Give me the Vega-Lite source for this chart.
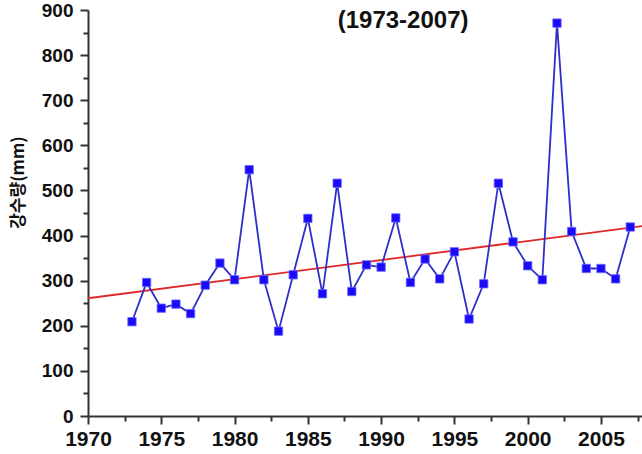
{
  "$schema": "https://vega.github.io/schema/vega-lite/v6.json",
  "width": 554,
  "height": 406,
  "autosize": {"type": "none"},
  "padding": {"left": 88, "top": 10, "right": 0, "bottom": 38},
  "background": "white",
  "config": {
    "view": {"stroke": null},
    "font": "Liberation Sans"
  },
  "datasets": {
    "rain": [
      {"year": 1973, "mm": 209}, {"year": 1974, "mm": 296}, {"year": 1975, "mm": 239},
      {"year": 1976, "mm": 248}, {"year": 1977, "mm": 227}, {"year": 1978, "mm": 290},
      {"year": 1979, "mm": 339}, {"year": 1980, "mm": 302}, {"year": 1981, "mm": 546},
      {"year": 1982, "mm": 302}, {"year": 1983, "mm": 188}, {"year": 1984, "mm": 313},
      {"year": 1985, "mm": 438}, {"year": 1986, "mm": 271}, {"year": 1987, "mm": 516},
      {"year": 1988, "mm": 276}, {"year": 1989, "mm": 335}, {"year": 1990, "mm": 330},
      {"year": 1991, "mm": 439}, {"year": 1992, "mm": 296}, {"year": 1993, "mm": 348},
      {"year": 1994, "mm": 304}, {"year": 1995, "mm": 364}, {"year": 1996, "mm": 215},
      {"year": 1997, "mm": 293}, {"year": 1998, "mm": 516}, {"year": 1999, "mm": 386},
      {"year": 2000, "mm": 333}, {"year": 2001, "mm": 302}, {"year": 2002, "mm": 871},
      {"year": 2003, "mm": 409}, {"year": 2004, "mm": 327}, {"year": 2005, "mm": 327},
      {"year": 2006, "mm": 304}, {"year": 2007, "mm": 419}
    ],
    "trend": [
      {"year": 1970, "mm": 261},
      {"year": 2007.8, "mm": 421}
    ],
    "label": [
      {"year": 1991.5, "mm": 876, "text": "(1973-2007)"}
    ]
  },
  "resolve": {"axis": {"x": "independent", "y": "independent"}},
  "layer": [
    {
      "data": {"name": "trend"},
      "mark": {"type": "rule", "opacity": 0},
      "encoding": {
        "x": {
          "field": "year", "type": "quantitative",
          "scale": {"domain": [1970, 2007.8], "nice": false, "zero": false},
          "axis": {
            "orient": "bottom",
            "values": [1972.5, 1977.5, 1982.5, 1987.5, 1992.5, 1997.5, 2002.5, 2007.5],
            "labels": false, "title": null, "grid": false,
            "domain": false, "tickSize": 5, "tickWidth": 2, "tickColor": "#333333"
          }
        },
        "y": {
          "field": "mm", "type": "quantitative",
          "scale": {"domain": [0, 900], "nice": false},
          "axis": {
            "orient": "left",
            "values": [50, 150, 250, 350, 450, 550, 650, 750, 850],
            "labels": false, "title": null, "grid": false,
            "domain": false, "tickSize": 5, "tickWidth": 2, "tickColor": "#333333"
          }
        }
      }
    },
    {
      "data": {"name": "trend"},
      "mark": {"type": "line", "color": "#e02828", "strokeWidth": 1.8},
      "encoding": {
        "x": {
          "field": "year", "type": "quantitative",
          "scale": {"domain": [1970, 2007.8], "nice": false, "zero": false},
          "axis": {
            "orient": "bottom",
            "values": [1970, 1975, 1980, 1985, 1990, 1995, 2000, 2005],
            "format": "d", "title": null, "grid": false,
            "labelFlush": false, "labelOverlap": false,
            "domainColor": "#333333", "domainWidth": 2,
            "tickColor": "#333333", "tickWidth": 2, "tickSize": 8,
            "labelFontSize": 21, "labelFontWeight": "bold", "labelColor": "#111111",
            "labelPadding": 4, "labelFont": "Liberation Sans"
          }
        },
        "y": {
          "field": "mm", "type": "quantitative",
          "scale": {"domain": [0, 900], "nice": false},
          "axis": {
            "orient": "left",
            "values": [0, 100, 200, 300, 400, 500, 600, 700, 800, 900],
            "title": "강수량(mm)", "grid": false,
            "labelFlush": false, "labelOverlap": false,
            "domainColor": "#333333", "domainWidth": 2,
            "tickColor": "#333333", "tickWidth": 2, "tickSize": 8,
            "labelFontSize": 19, "labelFontWeight": "bold", "labelColor": "#111111",
            "labelPadding": 7, "labelFont": "Liberation Sans",
            "titleFontSize": 17, "titleFontWeight": "bold", "titleColor": "#111111",
            "titleFont": "Noto Sans CJK KR",
            "titleX": -70, "titleY": 172, "titleAngle": -90,
            "titleAlign": "center", "titleBaseline": "middle"
          }
        }
      }
    },
    {
      "data": {"name": "rain"},
      "mark": {"type": "line", "color": "#2f2fc8", "strokeWidth": 1.8},
      "encoding": {
        "x": {"field": "year", "type": "quantitative", "axis": null},
        "y": {"field": "mm", "type": "quantitative", "axis": null}
      }
    },
    {
      "data": {"name": "rain"},
      "mark": {"type": "point", "shape": "square", "filled": true, "size": 70, "color": "#1a0af5", "stroke": "#6a6aff", "strokeWidth": 0.8, "opacity": 1},
      "encoding": {
        "x": {"field": "year", "type": "quantitative", "axis": null},
        "y": {"field": "mm", "type": "quantitative", "axis": null}
      }
    },
    {
      "data": {"name": "label"},
      "mark": {"type": "text", "fontSize": 24, "fontWeight": "bold", "font": "Liberation Sans", "color": "#111111", "baseline": "middle", "align": "center"},
      "encoding": {
        "x": {"field": "year", "type": "quantitative", "axis": null},
        "y": {"field": "mm", "type": "quantitative", "axis": null},
        "text": {"field": "text"}
      }
    }
  ]
}
